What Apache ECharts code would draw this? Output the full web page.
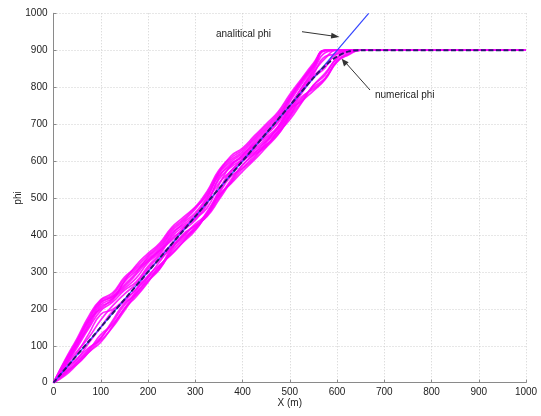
<!DOCTYPE html>
<html><head><meta charset="utf-8">
<script src="https://cdn.jsdelivr.net/npm/echarts@6/dist/echarts.min.js"></script>
<style>html,body{margin:0;padding:0;background:#fff}#c{width:541px;height:416px}</style>
</head><body><div id="c"></div>
<script>
// shared x grid (m)
const xs = [0,25,50,75,100,125,150,175,200,225,250,275,300,325,350,375,400,425,450,475,500,525,550,575,600,625,650,1000];
// individual numerical realisations (phi)
const runA = [0,58,115,175,222,238,280,308,335,363,405,428,455,498,565,598,620,648,680,713,765,813,855,900,900,900,900,900];
const runB = [0,48,100,158,210,228,255,283,325,353,395,423,445,473,535,588,615,643,665,693,745,798,845,893,900,900,900,900];
const runC = [0,33,80,133,185,198,225,253,305,333,365,393,420,463,515,568,600,623,645,678,730,783,825,853,895,900,900,900];
const runD = [0,26,57,91,122,163,210,243,278,310,355,388,415,456,505,541,580,613,643,673,722,768,800,825,872,893,900,900];
const runE = [0,53,105,163,215,233,265,298,340,368,410,438,470,513,570,603,625,658,690,723,770,818,860,900,900,900,900,900];
const runF = [0,43,85,123,170,208,240,268,310,343,375,418,450,493,540,573,605,638,670,703,750,798,840,878,900,900,900,900];
const runG = [0,23,55,88,130,158,200,248,290,318,350,383,420,453,500,548,590,618,640,683,725,773,795,823,870,890,900,900];
const runH = [0,63,120,181,225,243,285,313,345,373,415,443,475,518,575,608,630,663,695,728,775,818,860,900,900,900,900,900];
const runI = [0,28,50,83,120,168,215,238,275,308,360,403,425,453,510,558,580,608,650,693,740,763,805,833,880,898,900,900];
const runJ = [0,46,95,148,195,218,250,273,315,348,390,413,440,483,555,593,610,643,675,708,760,808,850,898,900,900,900,900];
const runK = [0,38,65,108,150,193,220,253,285,313,365,398,430,458,520,573,600,628,655,688,735,788,830,858,890,900,900,900];
const runL = [0,56,110,168,200,228,273,303,330,358,400,433,460,503,560,588,615,653,685,718,770,816,855,900,900,900,900,900];
const runM = [0,60,113,171,218,233,260,293,330,358,385,418,445,488,550,583,605,633,660,688,740,793,835,883,890,900,900,900];
const runN = [0,20,50,83,110,153,200,233,272,318,347,381,412,458,507,538,572,603,637,671,718,760,790,821,868,888,900,900];
const runO = [0,50,103,153,205,223,275,318,350,378,420,448,475,508,570,613,635,668,700,733,780,823,865,900,900,900,900,900];
const runP = [0,30,63,95,115,150,195,241,285,328,370,398,425,450,495,543,588,620,653,678,712,758,805,838,878,896,900,900];
const runs = [runA,runB,runC,runD,runE,runF,runG,runH,runI,runJ,runK,runL,runM,runN,runO,runP];
// analytical phi
const analyticX = [0,667];
const analyticPhi = [0,1000];
// mean numerical phi
const numX = [0,100,200,300,400,500,550,575,600,625,650,1000];
const numPhi = [0,150,300,450,600,750,825,858,883,897,900,900];
// ticks
const xTicks = [0,100,200,300,400,500,600,700,800,900,1000];
const yTicks = [0,100,200,300,400,500,600,700,800,900,1000];

const FONT = 'Liberation Sans';
const pair = (a,b) => a.map((v,i)=>[v,b[i]]);
const series = [];
runs.forEach(r => series.push({
  type:'line', data: pair(xs, r), showSymbol:false, smooth:0.5, silent:true,
  lineStyle:{color:'#ff00ff', width:1.7, opacity:0.85}, z:2
}));
series.push({type:'line', data: pair(analyticX, analyticPhi), showSymbol:false, silent:true,
  lineStyle:{color:'#3344ff', width:1.2}, z:3});
series.push({type:'line', data: pair(numX, numPhi), showSymbol:false, silent:true, smooth:0.3,
  lineStyle:{color:'#2a1670', width:2, type:[5,2.5]}, z:4});

const axisCommon = {
  type:'value', min:0, max:1000, interval:100,
  axisLine:{show:true, onZero:false, lineStyle:{color:'#8a8a8a', width:1}},
  axisTick:{show:true, inside:true, length:3, lineStyle:{color:'#8a8a8a'}},
  splitLine:{show:true, lineStyle:{color:'#cfcfcf', type:[1,2], width:1}},
  axisLabel:{color:'#222', fontSize:10, fontFamily:FONT, margin:5}
};
const chart = echarts.init(document.getElementById('c'), null, {renderer:'canvas'});
chart.setOption({
  animation:false,
  grid:{left:53.5, right:15, top:13.3, bottom:33.3, containLabel:false, outerBoundsMode:'none'},
  xAxis: Object.assign({}, axisCommon, {
    name:'X (m)', nameLocation:'middle', nameGap:16, nameMoveOverlap:false,
    nameTextStyle:{color:'#222', fontSize:10, fontFamily:FONT},
    axisLabel:Object.assign({}, axisCommon.axisLabel, {formatter:v => xTicks.includes(v) ? String(v) : ''})
  }),
  yAxis: Object.assign({}, axisCommon, {
    name:'phi', nameLocation:'middle', nameGap:30, nameMoveOverlap:false,
    nameTextStyle:{color:'#222', fontSize:10, fontFamily:FONT},
    axisLabel:Object.assign({}, axisCommon.axisLabel, {margin:6, formatter:v => yTicks.includes(v) ? String(v) : ''})
  }),
  series: series,
  graphic:[
    {type:'text', left:216, top:29, style:{text:'analitical phi', fill:'#222', font:'10px "Liberation Sans"'}},
    {type:'line', shape:{x1:302, y1:31.7, x2:334, y2:36.2}, style:{stroke:'#333', lineWidth:1}},
    {type:'polygon', shape:{points:[[339.5,37],[331.5,32.8],[330.8,38.6]]}, style:{fill:'#333'}},
    {type:'text', left:375, top:90, style:{text:'numerical phi', fill:'#222', font:'10px "Liberation Sans"'}},
    {type:'line', shape:{x1:370, y1:90, x2:345.5, y2:62.5}, style:{stroke:'#333', lineWidth:1}},
    {type:'polygon', shape:{points:[[341.7,58.8],[344,66.5],[348.6,62.2]]}, style:{fill:'#333'}}
  ]
});
</script></body></html>
